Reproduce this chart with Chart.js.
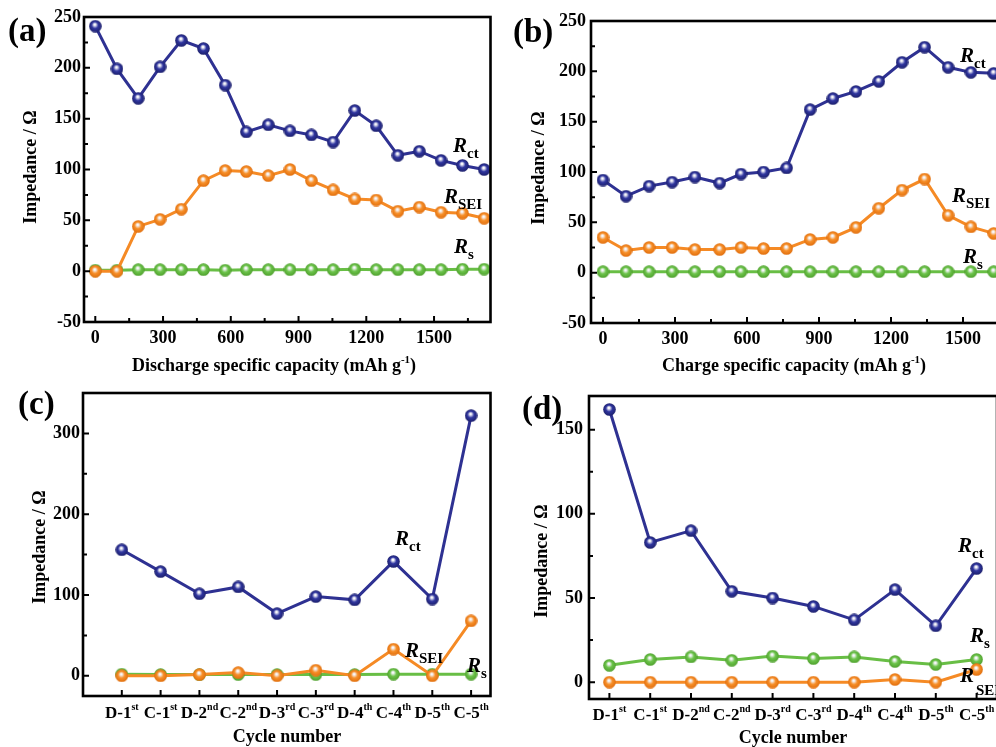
<!DOCTYPE html>
<html><head><meta charset="utf-8">
<script src="https://cdn.jsdelivr.net/npm/chart.js@4"></script>
<style>
html,body{margin:0;padding:0;background:#fff;width:996px;height:747px;overflow:hidden;position:relative}
canvas{position:absolute}
</style></head><body>
<canvas id="ca"></canvas><canvas id="cb"></canvas><canvas id="cc"></canvas><canvas id="cd"></canvas>
<script>
// ---------- data ----------
const capA = [0,96,190,287,381,479,575,669,766,862,957,1053,1149,1244,1340,1435,1531,1626,1722];
const rctA = [241,199,170,201,227,219,183,137,144,138,134,127,158,143,114,118,109,104,100];
const rseiA = [0,0,44,51,61,89,99,98,94,100,89,80,71,70,59,63,58,57,52];
const rsA = [1,1,1.5,1.5,1.5,1.5,1,1.5,1.5,1.5,1.5,1.5,2,1.5,1.5,1.5,1.5,2,2];

const capB = [0,96,192,288,383,486,575,669,765,863,958,1054,1149,1246,1340,1438,1533,1628];
const rctB = [92,76,86,90,95,89,98,100,104,162,173,180,190,209,224,204,199,198];
const rseiB = [35,22,25,25,23,23,25,24,24,33,35,45,64,82,93,57,45.5,39];
const rsB = [1,1,1,1,1,1,1,1,1,1,1,1,1,1,1,1,1,1];

const cycleBase = ['D-1','C-1','D-2','C-2','D-3','C-3','D-4','C-4','D-5','C-5'];
const cycleSup  = ['st','st','nd','nd','rd','rd','th','th','th','th'];
const cycleIdx  = [1,2,3,4,5,6,7,8,9,10];

const rctC = [156,129,101.5,110,77,98,94,141.5,95,322];
const rseiC = [0,0,1.5,4,0,7,0,33,0,68];
const rsC = [2,1.5,1.5,1.5,1.5,1.5,1.5,2,2,2];

const rctD = [162,83,90,54,50,45,37,55,33.5,67.5];
const rsD = [10,13.5,15,13,15.5,14,15,12.3,10.5,13.5];
const rseiD = [0,0,0,0,0,0,0,1.6,0,7.5];

const capMajor = [0,300,600,900,1200,1500];
const capMinor = [150,450,750,1050,1350,1650];
const yMajorAB = [-50,0,50,100,150,200,250];
const yMinorAB = [-25,25,75,125,175,225];
const yMajorC = [0,100,200,300];
const yMinorC = [50,150,250];
const yMajorD = [0,50,100,150];
const yMinorD = [25,75,125];

// ---------- style ----------
const FONT = "'Liberation Serif','Times New Roman',serif";
const BLUE = '#2E3192', ORANGE = '#F58A25', GREEN = '#68BE45';

function sphere(base, dark, d) {
  const c = document.createElement('canvas');
  c.width = d; c.height = d;
  const g = c.getContext('2d');
  const r = d / 2;
  const grad = g.createRadialGradient(r * 0.9, r * 0.7, 0, r, r, r);
  grad.addColorStop(0, '#ffffff');
  grad.addColorStop(0.15, '#f4f4f8');
  grad.addColorStop(0.5, base);
  grad.addColorStop(1, dark);
  g.fillStyle = grad;
  g.beginPath(); g.arc(r, r, r - 0.2, 0, Math.PI * 2); g.fill();
  return c;
}
const sphB = sphere('#3036a0', '#1c1f6a', 13);
const sphO = sphere('#f7902a', '#e06d0c', 13);
const sphG = sphere('#6cc44a', '#4f9f2e', 13);

function rich(ctx, x, y, parts, align) {
  let w = 0;
  parts.forEach(p => { ctx.font = p[1]; w += ctx.measureText(p[0]).width + (p[3] || 0); });
  let sx = align === 'center' ? x - w / 2 : (align === 'right' ? x - w : x);
  ctx.textAlign = 'left'; ctx.textBaseline = 'alphabetic';
  parts.forEach(p => { ctx.font = p[1]; ctx.fillText(p[0], sx + (p[3] || 0), y + p[2]); sx += ctx.measureText(p[0]).width + (p[3] || 0); });
}
const F = (s, st) => (st || 'bold') + ' ' + s + 'px ' + FONT;
function rLabel(sub, x, y, dy, dx) {
  return { x, y, parts: [['R', F(21, 'italic bold'), 0], [sub, F(15), dy === undefined ? 6 : dy, dx || 0]] };
}
function xTitleCap(word) {
  return [[word + ' specific capacity (mAh g', F(18), 0], ['-1', F(11), -8], [')', F(18), 0]];
}

const panels = [
  { id: 'ca', cx: 0, cy: 0, w: 500, h: 385, area: [84, 17, 492, 322], xr: [-50, 1750], yr: [-50, 250],
    xs: capA, rct: rctA, rsei: rseiA, rs: rsA, xMajor: capMajor, xMinor: capMinor, yMajor: yMajorAB, yMinor: yMinorAB,
    ypad: 3, cycle: false, letter: ['(a)', 8, 41], ytitle: [35.5, 167], xtitle: [274, 371, xTitleCap('Discharge')],
    labels: [rLabel('ct', 453, 152), rLabel('SEI', 444, 203), rLabel('s', 454, 253)] },
  { id: 'cb', cx: 500, cy: 0, w: 540, h: 385, area: [591, 21, 1023, 323], xr: [-50, 1750], yr: [-50, 250],
    xs: capB, rct: rctB, rsei: rseiB, rs: rsB, xMajor: capMajor, xMinor: capMinor, yMajor: yMajorAB, yMinor: yMinorAB,
    ypad: 5, cycle: false, letter: ['(b)', 513, 42], ytitle: [544, 168], xtitle: [794, 371, xTitleCap('Charge')],
    labels: [rLabel('ct', 960, 62), rLabel('SEI', 952, 202), rLabel('s', 963, 263)] },
  { id: 'cc', cx: 0, cy: 370, w: 500, h: 377, area: [83, 393, 492, 696], xr: [0, 10.5], yr: [-25, 350],
    xs: cycleIdx, rct: rctC, rsei: rseiC, rs: rsC, xMajor: cycleIdx, xMinor: [], yMajor: yMajorC, yMinor: yMinorC,
    ypad: 3, cycle: true, labelBase: 718, letter: ['(c)', 18, 414], ytitle: [45, 547], xtitle: [287, 742, [['Cycle number', F(18), 0]]],
    labels: [rLabel('ct', 395, 545), rLabel('SEI', 405, 657), rLabel('s', 467, 672)] },
  { id: 'cd', cx: 500, cy: 370, w: 510, h: 377, area: [589, 396, 997, 699], xr: [0.5, 10.5], yr: [-10, 170],
    xs: cycleIdx, rct: rctD, rsei: rseiD, rs: rsD, xMajor: cycleIdx, xMinor: [], yMajor: yMajorD, yMinor: yMinorD,
    ypad: 6, cycle: true, labelBase: 720, letter: ['(d)', 522, 419], ytitle: [547, 561], xtitle: [793, 743, [['Cycle number', F(18), 0]]],
    labels: [rLabel('ct', 958, 552), rLabel('s', 970, 642), rLabel('SEI', 960, 682, 13, 2)] }
];

function pts(xs, ys) { return xs.map((x, i) => ({ x, y: ys[i] })); }

panels.forEach(p => {
  const cv = document.getElementById(p.id);
  cv.width = p.w; cv.height = p.h;
  cv.style.left = p.cx + 'px'; cv.style.top = p.cy + 'px';
  cv.style.width = p.w + 'px'; cv.style.height = p.h + 'px';
  const [L, T, R, B] = p.area;
  const ds = (data, color, img, order) => ({
    data, borderColor: color, backgroundColor: color, borderWidth: 3, tension: 0,
    pointStyle: img, pointRadius: 6.5, order, clip: false
  });
  const frame = {
    id: 'frame',
    afterDraw(chart) {
      const ctx = chart.ctx, a = chart.chartArea, xs = chart.scales.x, ys = chart.scales.y;
      ctx.save();
      ctx.strokeStyle = '#000'; ctx.fillStyle = '#000'; ctx.lineWidth = 2;
      ctx.beginPath();
      p.yMajor.forEach(v => { const y = ys.getPixelForValue(v); ctx.moveTo(a.left, y); ctx.lineTo(a.left + 6, y); });
      p.yMinor.forEach(v => { const y = ys.getPixelForValue(v); ctx.moveTo(a.left, y); ctx.lineTo(a.left + 4, y); });
      p.xMajor.forEach(v => { const x = xs.getPixelForValue(v); ctx.moveTo(x, a.bottom); ctx.lineTo(x, a.bottom - 6); });
      p.xMinor.forEach(v => { const x = xs.getPixelForValue(v); ctx.moveTo(x, a.bottom); ctx.lineTo(x, a.bottom - 4); });
      ctx.stroke();
      ctx.lineWidth = 2.6;
      ctx.strokeRect(a.left, a.top, a.right - a.left, a.bottom - a.top);
      const ox = p.cx, oy = p.cy;
      if (p.cycle) {
        cycleIdx.forEach((v, i) => {
          const x = xs.getPixelForValue(v);
          rich(ctx, x, p.labelBase - oy, [[cycleBase[i], F(17), 0], [cycleSup[i], F(10), -8]], 'center');
        });
      }
      rich(ctx, p.letter[1] - ox, p.letter[2] - oy, [[p.letter[0], F(33), 0]], 'left');
      rich(ctx, p.xtitle[0] - ox, p.xtitle[1] - oy, p.xtitle[2], 'center');
      ctx.save();
      ctx.translate(p.ytitle[0] - ox, p.ytitle[1] - oy);
      ctx.rotate(-Math.PI / 2);
      rich(ctx, 0, 0, [['Impedance / \u03A9', F(18), 0]], 'center');
      ctx.restore();
      p.labels.forEach(l => rich(ctx, l.x - ox, l.y - oy, l.parts, 'left'));
      ctx.restore();
    }
  };
  new Chart(cv, {
    type: 'line',
    data: { datasets: [
      ds(pts(p.xs, p.rct), BLUE, sphB, 1),
      ds(pts(p.xs, p.rsei), ORANGE, sphO, 2),
      ds(pts(p.xs, p.rs), GREEN, sphG, 3)
    ] },
    options: {
      responsive: false, animation: false, events: [],
      layout: { padding: { left: 0, top: T - p.cy, right: p.cx + p.w - R, bottom: 0 } },
      plugins: { legend: { display: false }, tooltip: { enabled: false } },
      scales: {
        x: {
          type: 'linear', min: p.xr[0], max: p.xr[1],
          afterBuildTicks: s => { s.ticks = p.xMajor.map(v => ({ value: v })); },
          afterFit: s => { s.height = p.cy + p.h - B; },
          grid: { display: false, drawTicks: false }, border: { display: false },
          ticks: { display: !p.cycle, autoSkip: false, maxRotation: 0, padding: 6, color: '#000',
            font: { family: FONT, weight: 'bold', size: 18 }, callback: v => String(v) }
        },
        y: {
          type: 'linear', min: p.yr[0], max: p.yr[1],
          afterBuildTicks: s => { s.ticks = p.yMajor.map(v => ({ value: v })); },
          afterFit: s => { s.width = L - p.cx; },
          grid: { display: false, drawTicks: false }, border: { display: false },
          ticks: { autoSkip: false, padding: p.ypad, color: '#000',
            font: { family: FONT, weight: 'bold', size: 18 }, callback: v => String(v) }
        }
      }
    },
    plugins: [frame]
  });
});
</script>
</body></html>
